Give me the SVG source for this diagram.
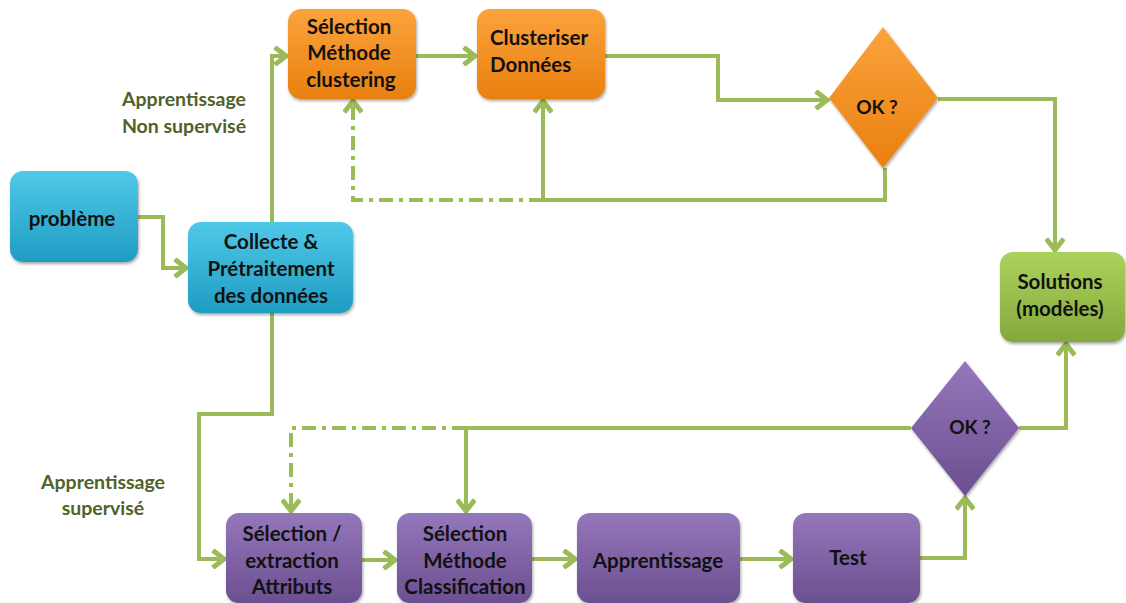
<svg xmlns="http://www.w3.org/2000/svg" width="1126" height="603" viewBox="0 0 1126 603">
<style>
.t{font-family:Lato,"Liberation Sans",sans-serif;font-weight:bold;font-size:20.5px;fill:#111;text-anchor:middle}
.lbl{font-family:Lato,"Liberation Sans",sans-serif;font-weight:bold;font-size:19.5px;fill:#4f6228;text-anchor:middle}
.c{fill:none;stroke:#9bbb59;stroke-width:4;marker-end:url(#ah)}
.dd{stroke-dasharray:14 6 4 6}
</style>
<defs>
<marker id="ah" markerUnits="userSpaceOnUse" markerWidth="20" markerHeight="20" refX="12" refY="8" orient="auto" viewBox="0 0 16 16">
<path d="M3,1 L12,8 L3,15" fill="none" stroke="#9bbb59" stroke-width="4"/>
</marker>
<linearGradient id="gb" x1="0" y1="0" x2="0" y2="1"><stop offset="0" stop-color="#4fc9e8"/><stop offset="1" stop-color="#1e9cc2"/></linearGradient>
<linearGradient id="go" x1="0" y1="0" x2="0" y2="1"><stop offset="0" stop-color="#fba33d"/><stop offset="1" stop-color="#e9800f"/></linearGradient>
<linearGradient id="gp" x1="0" y1="0" x2="0" y2="1"><stop offset="0" stop-color="#9577bb"/><stop offset="1" stop-color="#6b4f90"/></linearGradient>
<linearGradient id="gg" x1="0" y1="0" x2="0" y2="1"><stop offset="0" stop-color="#acd25c"/><stop offset="1" stop-color="#85a83b"/></linearGradient>
<filter id="sh" x="-10%" y="-10%" width="130%" height="130%"><feDropShadow dx="1" dy="2" stdDeviation="1.5" flood-color="#000" flood-opacity="0.35"/></filter>
</defs>

<g id="connectors">
<path class="c" d="M138,217 H163 V268 H186"/>
<path class="c" d="M272,222 V56 H286"/>
<path class="c" d="M416,56 H475"/>
<path class="c" d="M605,56 H718 V100 H827"/>
<path class="c" d="M938,99 H1055 V250"/>
<path class="c" d="M885,168 V200 H543 V101"/>
<path class="c dd" d="M543,200 H353 V101"/>
<path class="c" d="M272,313 V414 H199 V559 H224"/>
<path class="c" d="M362,560 H395"/>
<path class="c" d="M532,559 H575"/>
<path class="c" d="M740,559 H791"/>
<path class="c" d="M912,558 H965 V498"/>
<path class="c" d="M1019,428 H1066 V344"/>
<path class="c" d="M911,428 H466 V511"/>
<path class="c dd" d="M466,428 H291 V511"/>
</g>

<g id="probleme"><rect x="10" y="171" width="128" height="91" rx="13" fill="url(#gb)" filter="url(#sh)"/><text class="t" x="72" y="226">problème</text></g>
<g id="collecte"><rect x="188" y="222" width="165" height="91" rx="13" fill="url(#gb)" filter="url(#sh)"/><text class="t" x="271" y="249">Collecte &amp;</text><text class="t" x="271" y="276">Prétraitement</text><text class="t" x="271" y="303">des données</text></g>
<g id="sel-clustering"><rect x="288" y="9" width="128" height="90" rx="13" fill="url(#go)" filter="url(#sh)"/><text class="t" x="349" y="34">Sélection</text><text class="t" x="349" y="60">Méthode</text><text class="t" x="351" y="87">clustering</text></g>
<g id="clusteriser"><rect x="477" y="9" width="128" height="90" rx="13" fill="url(#go)" filter="url(#sh)"/><text class="t" x="490" y="45" style="text-anchor:start">Clusteriser</text><text class="t" x="490" y="72" style="text-anchor:start">Données</text></g>
<g id="ok1"><polygon points="883,27 938,98 883,168 829,98" fill="url(#go)" filter="url(#sh)"/><text class="t" x="877" y="114" style="font-size:19px">OK ?</text></g>
<g id="solutions"><rect x="1000" y="252" width="125" height="90" rx="13" fill="url(#gg)" filter="url(#sh)"/><text class="t" x="1060" y="289">Solutions</text><text class="t" x="1060" y="316">(modèles)</text></g>
<g id="sel-extraction"><rect x="226" y="513" width="136" height="90" rx="13" fill="url(#gp)" filter="url(#sh)"/><text class="t" x="292" y="541">Sélection  /</text><text class="t" x="292" y="568">extraction</text><text class="t" x="292" y="594">Attributs</text></g>
<g id="sel-classif"><rect x="397" y="513" width="135" height="90" rx="13" fill="url(#gp)" filter="url(#sh)"/><text class="t" x="465" y="541">Sélection</text><text class="t" x="465" y="568">Méthode</text><text class="t" x="465" y="594">Classification</text></g>
<g id="apprentissage"><rect x="577" y="513" width="163" height="90" rx="13" fill="url(#gp)" filter="url(#sh)"/><text class="t" x="658" y="568">Apprentissage</text></g>
<g id="test"><rect x="793" y="513" width="127" height="90" rx="13" fill="url(#gp)" filter="url(#sh)"/><text class="t" x="848" y="565">Test</text></g>
<g id="ok2"><polygon points="965,361 1019,428 965,496 911,428" fill="url(#gp)" filter="url(#sh)"/><text class="t" x="970" y="434" style="font-size:19px">OK ?</text></g>

<g id="labels">
<text class="lbl" x="184" y="106">Apprentissage</text>
<text class="lbl" x="184" y="133">Non supervisé</text>
<text class="lbl" x="103" y="489">Apprentissage</text>
<text class="lbl" x="103" y="515">supervisé</text>
</g>
</svg>
